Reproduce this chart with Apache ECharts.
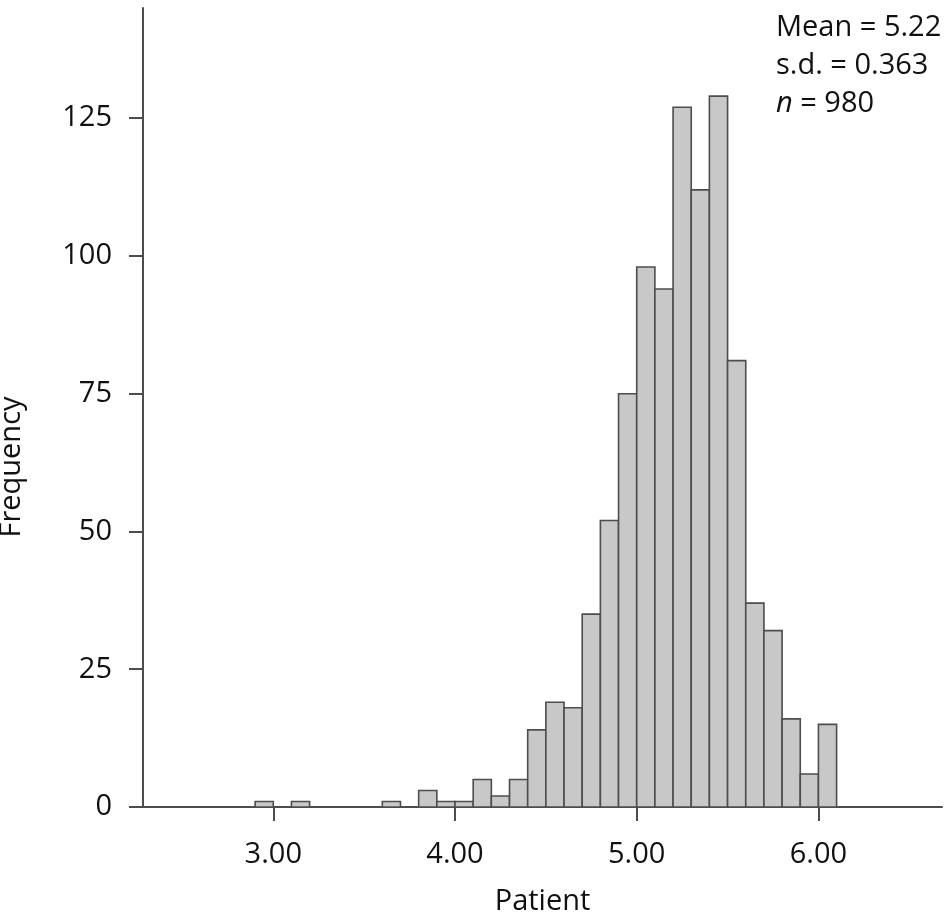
<!DOCTYPE html>
<html>
<head>
<meta charset="utf-8">
<script src="https://cdn.jsdelivr.net/npm/echarts@6/dist/echarts.min.js"></script>
<style>
  html, body { margin: 0; padding: 0; background: #fff; }
  #chart { width: 945px; height: 914px; }
</style>
</head>
<body>
<div id="chart"></div>
<script>
// histogram bins, width 0.1
const binStarts = [2.9, 3.1, 3.6, 3.8, 3.9, 4.0, 4.1, 4.2, 4.3, 4.4, 4.5, 4.6, 4.7,
    4.8, 4.9, 5.0, 5.1, 5.2, 5.3, 5.4, 5.5, 5.6, 5.7, 5.8, 5.9, 6.0];
const counts = [1, 1, 1, 3, 1, 1, 5, 2, 5, 14, 19, 18, 35,
    52, 75, 98, 94, 127, 112, 129, 81, 37, 32, 16, 6, 15];
const binWidth = 0.1;
const xTicks = [3, 4, 5, 6];
const yTicks = [0, 25, 50, 75, 100, 125];
const statLines = ['Mean = 5.22', 's.d. = 0.363', '{i|n} = 980'];

const font = '"Open Sans", "Noto Sans", sans-serif';
const axisColor = '#4d4d4d';
const fs = 29;

const chart = echarts.init(document.getElementById('chart'));

const option = {
    animation: false,
    grid: { left: 143, right: 3, top: 8, bottom: 107, containLabel: false, outerBoundsMode: 'none' },
    xAxis: {
        type: 'value',
        min: 2.283,
        max: 6.68,
        name: 'Patient',
        nameLocation: 'middle',
        nameGap: 80,
        nameTextStyle: { fontFamily: font, fontSize: fs, color: '#111' },
        axisLine: { show: true, lineStyle: { color: axisColor, width: 2 } },
        axisTick: { show: true, length: 14, customValues: xTicks, lineStyle: { color: axisColor, width: 2 } },
        axisLabel: {
            customValues: xTicks,
            margin: 33,
            fontFamily: font, fontSize: fs, color: '#111',
            formatter: v => v.toFixed(2)
        },
        splitLine: { show: false }
    },
    yAxis: {
        type: 'value',
        min: 0,
        max: 145,
        axisLine: { show: true, lineStyle: { color: axisColor, width: 2 } },
        axisTick: { show: true, length: 14, customValues: yTicks, lineStyle: { color: axisColor, width: 2 } },
        axisLabel: {
            customValues: yTicks,
            margin: 31,
            fontFamily: font, fontSize: fs, color: '#111'
        },
        splitLine: { show: false }
    },
    graphic: [
        {
            type: 'text',
            x: 12, y: 467,
            rotation: Math.PI / 2,
            style: {
                text: 'Frequency',
                fontFamily: font, fontSize: fs, fill: '#111',
                align: 'center', verticalAlign: 'middle'
            }
        },
        {
            type: 'text',
            x: 776, y: 9,
            style: {
                text: statLines.join('\n'),
                fontFamily: font, fontSize: fs, fill: '#111',
                lineHeight: 38,
                rich: {
                    i: { fontStyle: 'italic', fontFamily: font, fontSize: fs, fill: '#111', lineHeight: 38 }
                }
            }
        }
    ],
    series: [{
        type: 'custom',
        data: binStarts.map((s, i) => [s, s + binWidth, counts[i]]),
        encode: { x: [0, 1], y: 2 },
        renderItem: (params, api) => {
            const p0 = api.coord([api.value(0), api.value(2)]);
            const p1 = api.coord([api.value(1), 0]);
            return {
                type: 'rect',
                shape: { x: p0[0], y: p0[1], width: p1[0] - p0[0], height: p1[1] - p0[1] },
                style: { fill: '#c8c8c8', stroke: '#4d4d4d', lineWidth: 1.6 }
            };
        }
    }]
};

chart.setOption(option);
</script>
</body>
</html>
